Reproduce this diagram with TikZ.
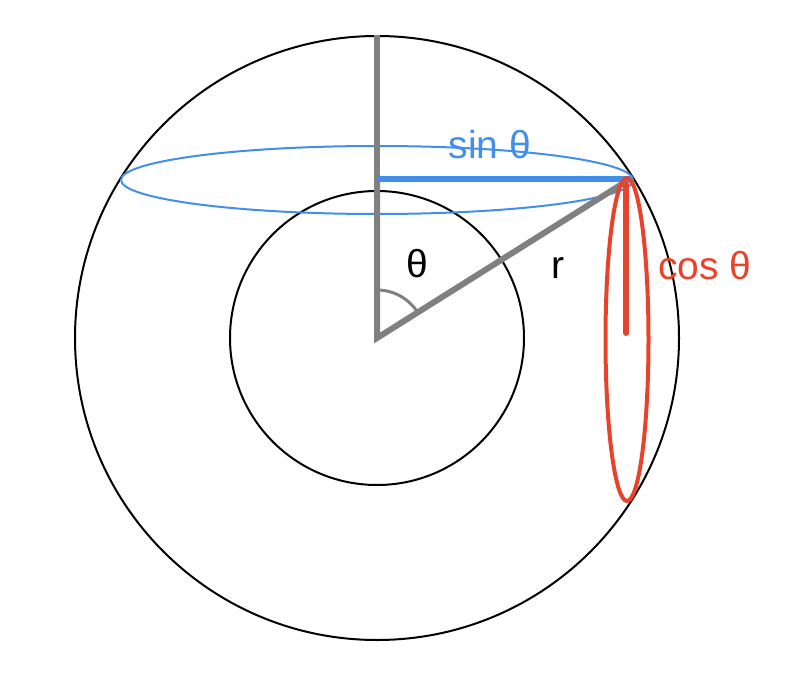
\documentclass[tikz,border=0pt]{standalone}
\usepackage{fontspec}
\setmainfont{Liberation Sans}
\definecolor{myblue}{RGB}{66,142,235}
\definecolor{myred}{RGB}{232,67,42}
\definecolor{mygray}{RGB}{128,128,128}
\begin{document}
\begin{tikzpicture}[x=1pt,y=-1pt,
  circ/.style={draw=black,line width=2pt},
  grayline/.style={draw=mygray,line width=6pt},
  lbl/.style={inner sep=0pt,font=\fontsize{39}{42}\selectfont}]
\useasboundingbox (0,0) rectangle (806,698);
\coordinate (O) at (377,338);
\coordinate (T) at (377,35);
\coordinate (P) at (630,179);
\coordinate (Q) at (377,179);
\coordinate (E) at (377,180);
\coordinate (RC) at (627,339.5);
\coordinate (RT) at (626,185);
\coordinate (RB) at (626,333);
% circles
\draw[circ] (O) circle[radius=302pt];
\draw[circ] (O) circle[radius=147pt];
% blue ellipse
\draw[myblue,line width=2pt] (E) circle[x radius=256pt,y radius=34pt];
% gray lines
\draw[grayline,line cap=butt] (T) -- (O);
\draw[grayline,line join=miter] (Q) -- (O) -- (P);
% angle arc
\draw[mygray,line width=3pt] (O) ++(90:48pt) arc[start angle=90,end angle=32.3,radius=48pt];
% blue line
\draw[myblue,line width=6pt] (Q) -- (P);
% red ellipse and line
\draw[myred,line width=4pt] (RC) circle[x radius=21.5pt,y radius=161.5pt];
\draw[myred,line width=6pt,line cap=round] (RT) -- (RB);
% labels
\node[lbl,text=myblue] (sinl) at (490,145) {sin θ};
\node[lbl] (thl) at (417,264) {θ};
\node[lbl] (rl) at (558,268) {r};
\node[lbl,text=myred] (cosl) at (705,266) {cos θ};
\end{tikzpicture}
\end{document}
